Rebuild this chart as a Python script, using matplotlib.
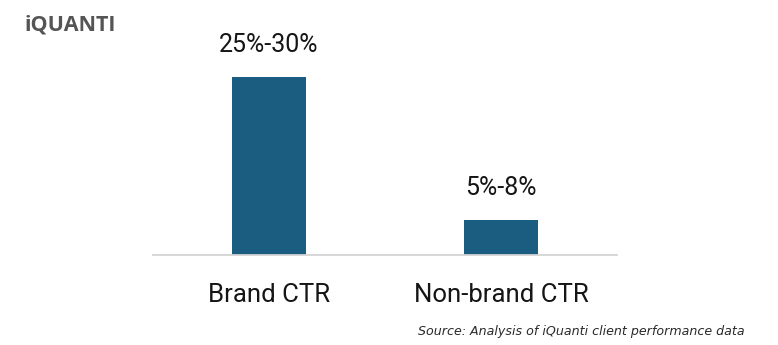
import matplotlib
matplotlib.use("Agg")
import matplotlib.pyplot as plt

categories = ["Brand CTR", "Non-brand CTR"]
values = [28.0, 5.5]
value_labels = ["25%-30%", "5%-8%"]
logo_text = "iQUANTI"
source_text = "Source: Analysis of iQuanti client performance data"

W, H = 778, 345
fig = plt.figure(figsize=(W / 100, H / 100), dpi=100)
fig.patch.set_facecolor("white")

ax_left, ax_right = 153, 617
ax_bottom, ax_top = 255, 30
ax = fig.add_axes([ax_left / W, 1 - ax_bottom / H, (ax_right - ax_left) / W, (ax_bottom - ax_top) / H])

x = list(range(len(categories)))
bars = ax.bar(x, values, width=0.315, color="#1a5d80")
ax.set_xlim(-0.5, 1.5)
ax.set_ylim(0, 225 * 28.0 / 178)

for s in ["top", "right", "left"]:
    ax.spines[s].set_visible(False)
ax.spines["bottom"].set_color("#d4d4d4")
ax.spines["bottom"].set_linewidth(1.3)
ax.set_yticks([])
ax.set_xticks(x)
ax.set_xticklabels(categories, fontsize=18.5, family="Roboto", color="#151515")
ax.tick_params(axis="x", length=0, pad=20)

for xi, v, lab in zip(x, values, value_labels):
    ax.annotate(lab, (xi, v), xytext=(0, 23), textcoords="offset points",
                ha="center", va="center", fontsize=18, family="Roboto", color="#151515")

fig.text(24 / W, 1 - 25 / H, logo_text, fontsize=15.5, family="Open Sans", weight="bold",
         color="#555555", ha="left", va="center")
fig.text(745 / W, 1 - 331 / H, source_text, fontsize=9.1, family="DejaVu Sans", style="italic",
         color="#2a2a2a", ha="right", va="center")

fig.savefig("out.png", dpi=100, facecolor="white")
